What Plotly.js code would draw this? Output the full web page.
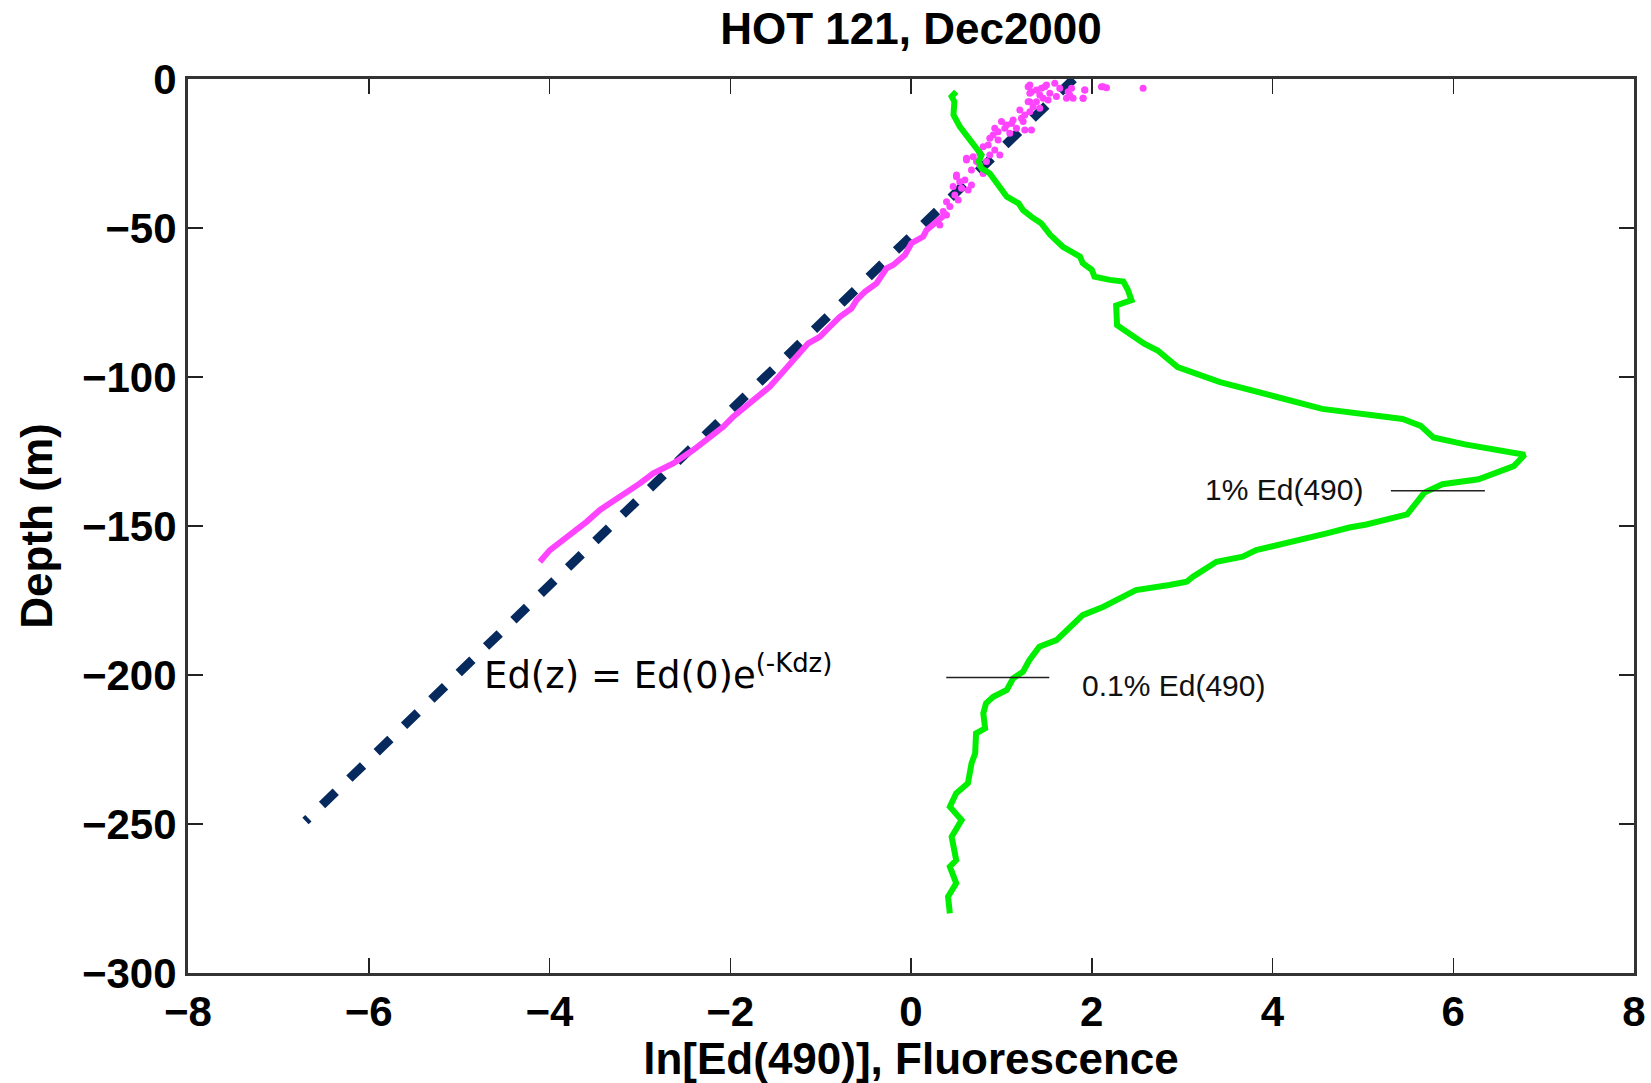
<!DOCTYPE html>
<html>
<head>
<meta charset="utf-8">
<script src="https://cdn.plot.ly/plotly-3.0.1.min.js"></script>
<style>html,body{margin:0;padding:0;background:#fff;}#chart{width:1651px;height:1083px;}</style>
</head>
<body>
<div id="chart"></div>
<script>
// Fluorescence profile (green)
const fluorX = [0.50,0.45,0.48,0.47,0.54,0.63,0.74,0.78,0.75,0.78,0.87,0.96,1.06,1.19,1.24,1.33,1.44,1.54,1.68,1.87,1.90,2.00,2.03,2.20,2.35,2.40,2.44,2.27,2.28,2.28,2.58,2.73,2.95,3.42,4.06,4.55,5.44,5.64,5.78,6.13,6.79,6.67,6.28,5.88,5.68,5.58,5.49,5.04,4.85,4.60,4.19,3.82,3.67,3.38,3.12,3.05,2.86,2.49,2.31,2.13,1.90,1.61,1.42,1.31,1.24,1.13,1.06,0.91,0.83,0.80,0.82,0.72,0.71,0.67,0.63,0.50,0.43,0.56,0.45,0.50,0.43,0.50,0.41,0.43];
const fluorDepth = [-4.3,-5.9,-7.6,-12,-16,-19.4,-23.3,-25.5,-27.7,-30,-31.6,-35,-39.5,-41.7,-44,-46.2,-48.4,-52.3,-56.3,-59.6,-61.8,-64,-66.3,-67.4,-68,-70.8,-74.2,-76,-81,-82.6,-88.8,-91.1,-96.7,-101.7,-106.8,-110.7,-114.1,-116.4,-120.3,-122.6,-126.1,-129.9,-134.3,-136,-138.8,-142.7,-146.1,-149.5,-150.5,-152.5,-155.3,-158.1,-160.3,-162,-167,-168.7,-169.8,-171.5,-174.3,-177.1,-179.9,-188.3,-190.5,-195,-198.9,-201.1,-205,-207.3,-209.5,-212.9,-217.9,-219.6,-226.3,-229.6,-236.3,-239.7,-244.2,-248.7,-254.3,-262.1,-264.3,-269.9,-274.4,-280];

// ln[Ed(490)] near-surface scattered samples (pink dots)
const edDotsX = [1.296,1.388,1.315,1.480,1.591,1.462,1.517,1.296,1.351,1.425,1.315,1.739,1.794,1.720,1.923,1.905,2.107,2.163,2.568,1.333,1.443,1.499,1.757,1.904,1.923,2.125,1.222,1.241,1.112,1.001,1.167,1.259,1.333,0.927,0.909,1.038,1.093,0.964,0.854,0.927,0.983,0.872,0.835,0.761,0.614,0.669,0.798,0.596,0.503,0.669,0.559,0.632,0.522,0.430,0.356,0.393,0.319,0.614,0.503,
  1.204,1.259,1.130,1.056,0.964,0.872,0.798,0.761,0.688,0.725,0.540,0.466,0.393,0.485,1.388,1.536,1.646,1.776,1.315,1.425,1.609,1.314];
const edDotsDepth = [-2.57,-3.69,-4.81,-2.57,-1.45,-6.49,-7.05,-7.61,-9.28,-9.84,-10.96,-4.25,-6.49,-6.49,-3.69,-6.49,-2.57,-2.91,-3.13,-4.25,-3.13,-2.0,-5.37,-6.49,-3.69,-2.57,-13.2,-14.3,-14.9,-14.3,-16.56,-17.1,-17.1,-16.56,-18.8,-16.56,-18.2,-20.5,-22.15,-23.8,-25.5,-25.5,-27.7,-28.9,-27.2,-30.5,-31.7,-33.9,-32.2,-35.6,-36.7,-37.25,-40.6,-42.8,-44.5,-45.6,-49,-26.6,-32.8,
  -10.4,-12.1,-13.8,-15.4,-17.7,-19.9,-22.7,-24.9,-26.1,-27.7,-34.5,-36.1,-41.2,-38.9,-7.6,-4.8,-3.1,-3.1,-2.0,-5.37,-5.9,-7.6];

// ln[Ed(490)] deeper profile (pink line)
const edLineX = [0.393,0.282,0.171,0.135,0.005,-0.068,-0.197,-0.271,-0.382,-0.511,-0.603,-0.658,-0.787,-0.898,-1.009,-1.138,-1.230,-1.304,-1.414,-1.561,-1.746,-1.820,-1.967,-2.078,-2.262,-2.410,-2.631,-2.852,-3.000,-3.221,-3.442,-3.590,-3.738,-3.867,-3.996,-4.107];
const edLineDepth = [-45.1,-47.9,-50.7,-52.9,-55.1,-59.1,-62.4,-63.5,-68.6,-71.4,-74.2,-77,-79.8,-83.1,-86.5,-88.7,-92.1,-94.3,-98.2,-103.2,-107.7,-110,-113.3,-116.7,-121.1,-124.5,-129,-132.3,-135.7,-140.2,-144.6,-148.6,-151.9,-154.7,-158.1,-162];

// Exponential fit Ed(z) = Ed(0)e^(-Kd z) (dashed)
const fitX = [1.80, -6.70];
const fitDepth = [0, -249];

// Reference markers for 1% and 0.1% light levels
const onePctX = [5.31, 6.35];
const onePctDepth = -138.2;
const tenthPctX = [0.39, 1.53];
const tenthPctDepth = -200.8;

const xTicks = [-8,-6,-4,-2,0,2,4,6,8];
const yTicks = [0,-50,-100,-150,-200,-250,-300];

const boldFont = {family: 'Liberation Sans, Arial, sans-serif', size: 42, color: '#000', weight: 'bold'};

const traces = [
  {x: fitX, y: fitDepth, mode: 'lines', line: {color: '#062a5e', width: 9, dash: '19px,19px'}, hoverinfo: 'skip', showlegend: false},
  {x: edDotsX, y: edDotsDepth, mode: 'markers', marker: {color: '#ff44ff', size: 7}, showlegend: false},
  {x: edLineX, y: edLineDepth, mode: 'lines', line: {color: '#ff44ff', width: 6}, showlegend: false},
  {x: fluorX, y: fluorDepth, mode: 'lines', line: {color: '#00ee00', width: 6}, showlegend: false}
];

const layout = {
  width: 1651, height: 1083,
  margin: {l: 188, r: 17, t: 79, b: 110},
  paper_bgcolor: '#fff', plot_bgcolor: '#fff',
  showlegend: false,
  title: {text: 'HOT 121, Dec2000', font: {family: 'Liberation Sans, Arial, sans-serif', size: 44, color: '#000', weight: 'bold'},
          x: 0.5, xref: 'paper', xanchor: 'center', y: 0.974, yref: 'container', yanchor: 'middle'},
  xaxis: {
    range: [-8, 8], tickvals: xTicks, ticktext: xTicks.map(v => v < 0 ? '\u2212' + Math.abs(v) : String(v)),
    ticks: 'inside', ticklen: 15, tickwidth: 1.5, tickcolor: '#222',
    showline: true, linecolor: '#333', linewidth: 3, mirror: 'ticks',
    showgrid: false, zeroline: false,
    tickfont: boldFont,
    title: {text: 'ln[Ed(490)], Fluorescence', font: {family: 'Liberation Sans, Arial, sans-serif', size: 44, color: '#000', weight: 'bold'}, standoff: 4}
  },
  yaxis: {
    range: [-300, 0], tickvals: yTicks, ticktext: yTicks.map(v => v < 0 ? '\u2212' + Math.abs(v) : String(v)),
    ticks: 'inside', ticklen: 15, tickwidth: 1.5, tickcolor: '#222',
    showline: true, linecolor: '#333', linewidth: 3, mirror: 'ticks',
    showgrid: false, zeroline: false,
    tickfont: boldFont,
    title: {text: 'Depth (m)', font: {family: 'Liberation Sans, Arial, sans-serif', size: 44, color: '#000', weight: 'bold'}, standoff: 16}
  },
  shapes: [
    {type: 'line', xref: 'x', yref: 'y', x0: onePctX[0], x1: onePctX[1], y0: onePctDepth, y1: onePctDepth, line: {color: '#222', width: 1.5}},
    {type: 'line', xref: 'x', yref: 'y', x0: tenthPctX[0], x1: tenthPctX[1], y0: tenthPctDepth, y1: tenthPctDepth, line: {color: '#222', width: 1.5}}
  ],
  annotations: [
    {xref: 'x', yref: 'y', x: 3.23, y: -137.8, xanchor: 'left', yanchor: 'middle', showarrow: false,
     text: '1% Ed(490)', font: {family: 'Liberation Sans, Arial, sans-serif', size: 30, color: '#111'}},
    {xref: 'x', yref: 'y', x: 1.87, y: -203.4, xanchor: 'left', yanchor: 'middle', showarrow: false,
     text: '0.1% Ed(490)', font: {family: 'Liberation Sans, Arial, sans-serif', size: 30, color: '#111'}},
    {xref: 'x', yref: 'y', x: -4.75, y: -199, xanchor: 'left', yanchor: 'middle', showarrow: false,
     text: 'Ed(z) = Ed(0)e<sup>(-Kdz)</sup>', font: {family: 'DejaVu Sans, Verdana, sans-serif', size: 37, color: '#000'}}
  ]
};

Plotly.newPlot('chart', traces, layout, {displayModeBar: false, staticPlot: true});
</script>
</body>
</html>
